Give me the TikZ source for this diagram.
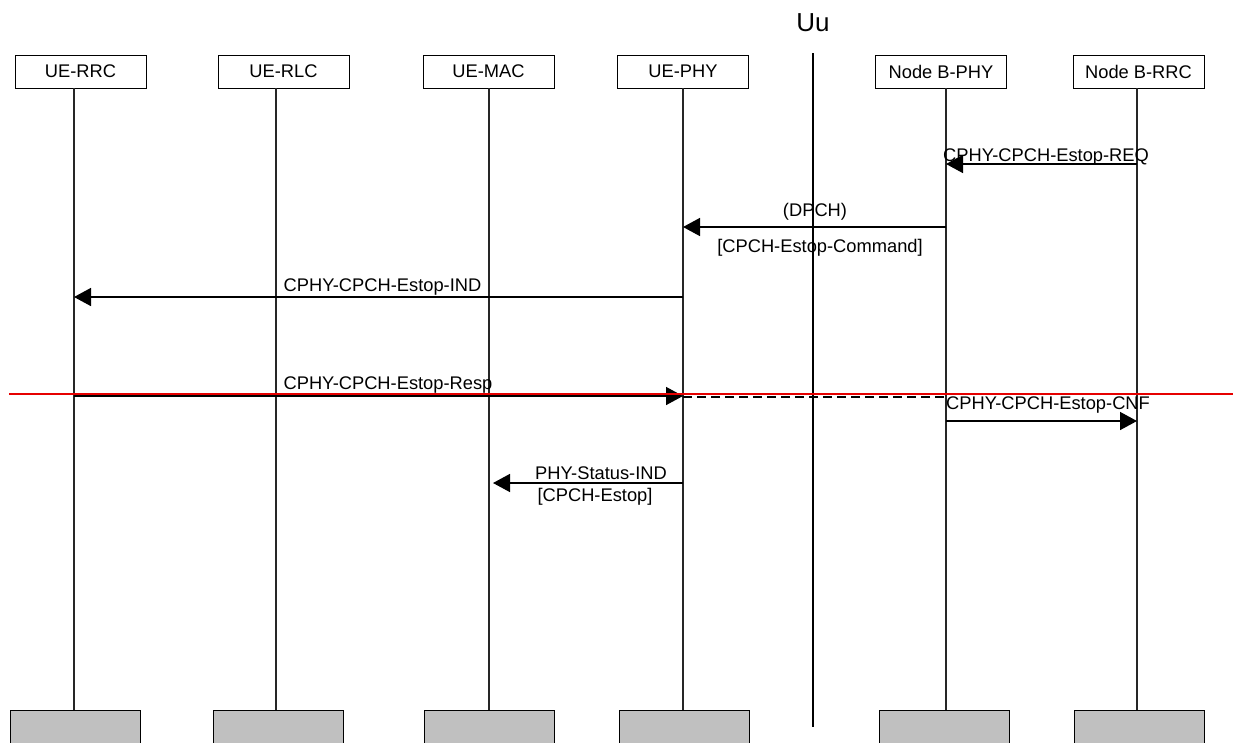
\documentclass[tikz,border=0pt]{standalone}
\usepackage{fontspec}
\setmainfont{Liberation Sans}
\usetikzlibrary{arrows.meta}
\definecolor{footgray}{RGB}{192,192,192}
\definecolor{markred}{RGB}{230,0,0}
\begin{document}
\begin{tikzpicture}[x=1pt,y=-1pt,
  ent/.style={draw=black, line width=0.9pt, minimum width=131pt, minimum height=33pt, inner sep=0pt, font=\fontsize{18.3}{22}\selectfont},
  foot/.style={draw=black, line width=0.9pt, fill=footgray, minimum width=130pt, minimum height=40pt, anchor=north, inner sep=0pt},
  life/.style={line width=1.1pt, black!85},
  msg/.style={line width=1.5pt, -{Triangle[length=17pt,width=18pt]}},
  lbl/.style={font=\fontsize{18.3}{22}\selectfont, inner sep=0pt, anchor=base},
]
\useasboundingbox (0,0) rectangle (1233,742);

% entities
\node[ent] (rrcT) at (80.5,71.5) {UE-RRC};
\node[ent] (rlcT) at (283.5,71.5) {UE-RLC};
\node[ent] (macT) at (488.5,71.5) {UE-MAC};
\node[ent] (phyT) at (683,71.5) {UE-PHY};
\node[ent] (bphyT) at (941,71.5) {Node B-PHY};
\node[ent] (brrcT) at (1138.5,71.5) {Node B-RRC};

\node[foot] (rrcB) at (75,710) {};
\node[foot] (rlcB) at (278,710) {};
\node[foot] (macB) at (489,710) {};
\node[foot] (phyB) at (684,710) {};
\node[foot] (bphyB) at (944,710) {};
\node[foot] (brrcB) at (1139,710) {};

% lifeline x positions
\coordinate (Lrrc) at (74,0);
\coordinate (Lrlc) at (276,0);
\coordinate (Lmac) at (489,0);
\coordinate (Lphy) at (683,0);
\coordinate (Lbphy) at (946,0);
\coordinate (Lbrrc) at (1137,0);

\draw[life] (rrcT.south -| Lrrc) -- (rrcB.north -| Lrrc);
\draw[life] (rlcT.south -| Lrlc) -- (rlcB.north -| Lrlc);
\draw[life] (macT.south -| Lmac) -- (macB.north -| Lmac);
\draw[life] (phyT.south -| Lphy) -- (phyB.north -| Lphy);
\draw[life] (bphyT.south -| Lbphy) -- (bphyB.north -| Lbphy);
\draw[life] (brrcT.south -| Lbrrc) -- (brrcB.north -| Lbrrc);

% Uu
\node[font=\fontsize{26}{30}\selectfont, inner sep=0pt, anchor=base] (uu) at (813,31) {Uu};
\coordinate (uuTop) at (813,53);
\coordinate (uuBot) at (813,727);
\draw[line width=1.8pt] (uuTop) -- (uuBot);

% message rows
\coordinate (r1) at (0,164);
\coordinate (r2) at (0,227);
\coordinate (r3) at (0,297);
\coordinate (r4) at (0,396);
\coordinate (r4d) at (0,397);
\coordinate (r5) at (0,421);
\coordinate (r6) at (0,483);

\draw[msg] (Lbrrc |- r1) -- (Lbphy |- r1);
\node[lbl] (t1) at (1046,161) {CPHY-CPCH-Estop-REQ};

\draw[msg] (Lbphy |- r2) -- (Lphy |- r2);
\node[lbl] (t2a) at (815,216) {(DPCH)};
\node[lbl] (t2b) at (820,252) {[CPCH-Estop-Command]};

\draw[msg] (Lphy |- r3) -- (Lrrc |- r3);
\node[lbl] (t3) at (382.5,291) {CPHY-CPCH-Estop-IND};

\draw[msg] (Lrrc |- r4) -- (Lphy |- r4);
\node[lbl] (t4) at (388,389) {CPHY-CPCH-Estop-Resp};
\draw[line width=2.5pt, dash pattern=on 9pt off 5pt] (Lphy |- r4d) -- (Lbphy |- r4d);

% red marker line
\coordinate (redL) at (9,394);
\coordinate (redR) at (1233,394);
\draw[markred, line width=2pt] (redL) -- (redR);

\draw[msg] (Lbphy |- r5) -- (Lbrrc |- r5);
\node[lbl] (t5) at (1048,409) {CPHY-CPCH-Estop-CNF};

\draw[msg] (Lphy |- r6) -- ([xshift=4pt]Lmac |- r6);
\node[lbl] (t6a) at (601,479) {PHY-Status-IND};
\node[lbl] (t6b) at (595,501) {[CPCH-Estop]};
\end{tikzpicture}
\end{document}
